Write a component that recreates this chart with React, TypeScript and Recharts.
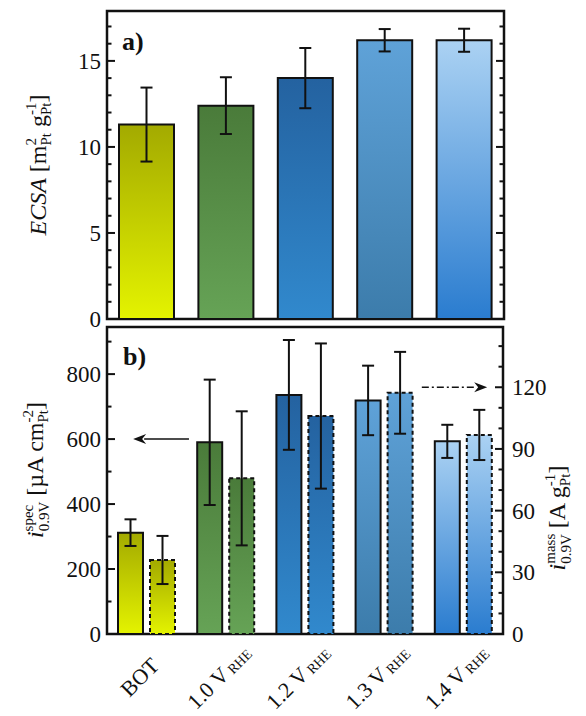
import React from 'react'
import { Bar, BarChart, Cell, ErrorBar, ReferenceArea, ReferenceLine, XAxis, YAxis } from 'recharts'

// values
const categories = ['BOT', '1.0 V', '1.2 V', '1.3 V', '1.4 V']
const labelSubs = ['', 'RHE', 'RHE', 'RHE', 'RHE']
const ecsa = [11.3, 12.4, 14.0, 16.2, 16.2]
const ecsaErr = [2.15, 1.65, 1.75, 0.65, 0.67]
const specAct = [312, 590, 736, 719, 593]
const specErr = [41, 193, 169, 107, 51]
const massAct = [36, 75.7, 106, 117.3, 96.8]
const massErr = [11.7, 32.6, 35.3, 19.9, 12.2]

const ecsaTicks = [0, 1, 2, 3, 4, 5, 6, 7, 8, 9, 10, 11, 12, 13, 14, 15, 16, 17]
const specTicks = [0, 100, 200, 300, 400, 500, 600, 700, 800, 900]
const massTicks = [0, 10, 20, 30, 40, 50, 60, 70, 80, 90, 100, 110, 120, 130, 140]

const gradients = [
  ['#a3aa00', '#e4f300'],
  ['#4a7b3a', '#66a356'],
  ['#2462a0', '#3189cd'],
  ['#5fa2d8', '#3c7cab'],
  ['#abd2f3', '#2a7ccf'],
]

const FONT = '"Liberation Serif", "Times New Roman", Times, serif'
const INK = '#111'
const AX_W = 40

const dataA = categories.map((name, i) => ({ name, ecsa: ecsa[i], err: ecsaErr[i] }))
const dataB = categories.map((name, i) => ({
  name,
  spec: specAct[i],
  specErr: specErr[i],
  mass: massAct[i],
  massErr: massErr[i],
}))

function Grads({ prefix }: { prefix: string }) {
  return (
    <defs>
      {gradients.map((g, i) => (
        <linearGradient key={i} id={`${prefix}${i}`} x1="0" y1="0" x2="0" y2="1">
          <stop offset="0%" stopColor={g[0]} />
          <stop offset="100%" stopColor={g[1]} />
        </linearGradient>
      ))}
    </defs>
  )
}

const leftTick = (major: number) => (p: any) => {
  const v = p.payload.value
  const isMajor = Math.abs(v / major - Math.round(v / major)) < 1e-6
  return (
    <g>
      <line x1={p.x} x2={p.x + (isMajor ? 8 : 4.5)} y1={p.y} y2={p.y} stroke={INK} strokeWidth={2} />
      {isMajor && (
        <text x={p.x - 6} y={p.y} dy="0.35em" textAnchor="end" fontSize={23} fontFamily={FONT} fill={INK}>
          {v}
        </text>
      )}
    </g>
  )
}

const rightTick = (major: number, showLabel: boolean) => (p: any) => {
  const v = p.payload.value
  const isMajor = Math.abs(v / major - Math.round(v / major)) < 1e-6
  return (
    <g>
      <line x1={p.x} x2={p.x - (isMajor ? 8 : 4.5)} y1={p.y} y2={p.y} stroke={INK} strokeWidth={2} />
      {showLabel && isMajor && (
        <text x={p.x + 9} y={p.y} dy="0.35em" textAnchor="start" fontSize={23} fontFamily={FONT} fill={INK}>
          {v}
        </text>
      )}
    </g>
  )
}

const XTick = (p: any) => {
  const cx = p.x - 7
  const cy = p.y + 43
  const sub = labelSubs[p.index]
  return (
    <text x={cx} y={cy} dy="0.35em" transform={`rotate(-45 ${cx} ${cy})`} textAnchor="middle" fontSize={22} fontFamily={FONT} fill={INK}>
      {p.payload.value}
      {sub && (
        <tspan fontSize={14} dx={3} dy={1}>
          {sub}
        </tspan>
      )}
    </text>
  )
}

// arrow drawn along a reference line; from/to are fractions of the plot width
const arrow = (from: number, to: number, dash?: string) => (p: any) => {
  const left = Math.min(p.x1, p.x2)
  const w = Math.abs(p.x2 - p.x1)
  const xa = left + from * w
  const xb = left + to * w
  const y = p.y1
  const dir = xb > xa ? 1 : -1
  const back = xb - dir * 13
  return (
    <g>
      <line x1={xa} x2={back + dir * 2} y1={y} y2={y} stroke={INK} strokeWidth={1.5} strokeDasharray={dash} />
      <path d={`M${xb},${y} L${back},${y - 5} L${back + dir * 4},${y} L${back},${y + 5} Z`} fill={INK} />
    </g>
  )
}

export default function App() {
  return (
    <div style={{ position: 'absolute', left: 0, top: 0, width: 586, height: 716, background: '#fff', fontFamily: FONT }}>
      <div style={{ position: 'absolute', left: 0, top: 0 }}>
        <BarChart width={586} height={350} data={dataA} margin={{ top: 11, right: 82 - AX_W, bottom: 1, left: 107 - AX_W }} barCategoryGap={12}>
          <Grads prefix="ga" />
          <XAxis dataKey="name" height={30} tick={false} tickLine={false} axisLine={false} />
          <YAxis yAxisId="l" domain={[0, 17.9]} allowDataOverflow ticks={ecsaTicks} interval={0} width={AX_W} tickSize={0} tickMargin={0} axisLine={false} tickLine={false} tick={leftTick(5)} />
          <YAxis yAxisId="r" orientation="right" domain={[0, 17.9]} allowDataOverflow ticks={ecsaTicks} interval={0} width={AX_W} tickSize={0} tickMargin={0} axisLine={false} tickLine={false} tick={rightTick(5, false)} />
          <ReferenceArea yAxisId="l" y1={0} y2={17.9} fill="none" stroke={INK} strokeWidth={2.5} />
          <Bar yAxisId="l" dataKey="ecsa" stroke={INK} strokeWidth={2} isAnimationActive={false}>
            {dataA.map((_, i) => (
              <Cell key={i} fill={`url(#ga${i})`} />
            ))}
            <ErrorBar dataKey="err" width={6} stroke={INK} strokeWidth={2} />
          </Bar>
        </BarChart>
      </div>
      <div style={{ position: 'absolute', left: 0, top: 316 }}>
        <BarChart width={586} height={400} data={dataB} margin={{ top: 11, right: 83 - AX_W, bottom: 2, left: 107 - AX_W }} barCategoryGap={11} barGap={7}>
          <Grads prefix="gb" />
          <XAxis dataKey="name" height={80} interval={0} tickSize={0} tickMargin={0} tickLine={false} axisLine={false} tick={XTick} />
          <YAxis yAxisId="l" domain={[0, 945]} allowDataOverflow ticks={specTicks} interval={0} width={AX_W} tickSize={0} tickMargin={0} axisLine={false} tickLine={false} tick={leftTick(200)} />
          <YAxis yAxisId="r" orientation="right" domain={[0, 149.3]} allowDataOverflow ticks={massTicks} interval={0} width={AX_W} tickSize={0} tickMargin={0} axisLine={false} tickLine={false} tick={rightTick(30, true)} />
          <ReferenceArea yAxisId="l" y1={0} y2={945} fill="none" stroke={INK} strokeWidth={2.5} />
          <Bar yAxisId="l" dataKey="spec" stroke={INK} strokeWidth={2} isAnimationActive={false}>
            {dataB.map((_, i) => (
              <Cell key={i} fill={`url(#gb${i})`} />
            ))}
            <ErrorBar dataKey="specErr" width={6} stroke={INK} strokeWidth={2} />
          </Bar>
          <Bar yAxisId="r" dataKey="mass" stroke={INK} strokeWidth={2} strokeDasharray="4 3" isAnimationActive={false}>
            {dataB.map((_, i) => (
              <Cell key={i} fill={`url(#gb${i})`} />
            ))}
            <ErrorBar dataKey="massErr" width={6} stroke={INK} strokeWidth={2} strokeDasharray="0" />
          </Bar>
          <ReferenceLine yAxisId="l" y={600} shape={arrow(0.207, 0.066)} />
          <ReferenceLine yAxisId="r" y={120} shape={arrow(0.795, 0.96, '7 3 2 3')} />
        </BarChart>
      </div>
      <svg width={586} height={716} style={{ position: 'absolute', left: 0, top: 0, pointerEvents: 'none' }} fontFamily={FONT} fill={INK}>
        <text x={122} y={50} fontSize={26} fontWeight="bold">a)</text>
        <text x={123} y={365} fontSize={26} fontWeight="bold">b)</text>
        <text x={46} y={165} transform="rotate(-90 46 165)" textAnchor="middle" fontSize={24}>
          <tspan fontStyle="italic">ECSA</tspan>
          <tspan> [m</tspan>
          <tspan fontSize={15} dy={-10}>2</tspan>
          <tspan fontSize={15} dx={-7.5} dy={15}>Pt</tspan>
          <tspan dy={-5}> g</tspan>
          <tspan fontSize={15} dy={-10}>-1</tspan>
          <tspan fontSize={15} dx={-12.5} dy={15}>Pt</tspan>
          <tspan dy={-5}>]</tspan>
        </text>
        <text x={43} y={470} transform="rotate(-90 43 470)" textAnchor="middle" fontSize={24}>
          <tspan fontStyle="italic">i</tspan>
          <tspan fontSize={15} dy={-10}>spec</tspan>
          <tspan fontSize={15} dx={-26.5} dy={16}>0.9V</tspan>
          <tspan dy={-6}> [µA cm</tspan>
          <tspan fontSize={15} dy={-10}>-2</tspan>
          <tspan fontSize={15} dx={-12.5} dy={15}>Pt</tspan>
          <tspan dy={-5}>]</tspan>
        </text>
        <text x={565} y={518} transform="rotate(-90 565 518)" textAnchor="middle" fontSize={24}>
          <tspan fontStyle="italic">i</tspan>
          <tspan fontSize={15} dy={-10}>mass</tspan>
          <tspan fontSize={15} dx={-30} dy={16}>0.9V</tspan>
          <tspan dy={-6}> [A g</tspan>
          <tspan fontSize={15} dy={-10}>-1</tspan>
          <tspan fontSize={15} dx={-12.5} dy={15}>Pt</tspan>
          <tspan dy={-5}>]</tspan>
        </text>
      </svg>
    </div>
  )
}
